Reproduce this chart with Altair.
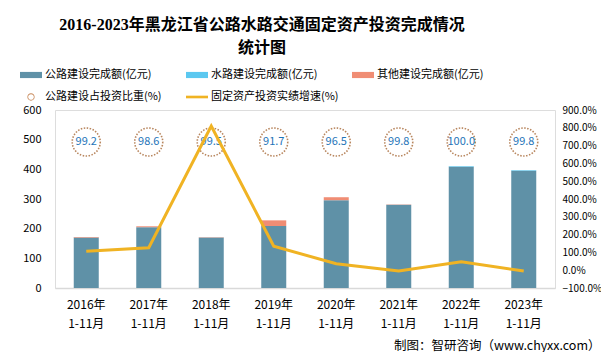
import altair as alt
import pandas as pd

years = ["2016年|1-11月", "2017年|1-11月", "2018年|1-11月", "2019年|1-11月",
         "2020年|1-11月", "2021年|1-11月", "2022年|1-11月", "2023年|1-11月"]
road = [170, 205, 170, 209, 296, 281, 409, 395]
water = [0, 0, 0, 0, 0, 0, 2, 2]
other = [2, 3, 1, 19, 10, 1, 0, 0]
road_share = [99.2, 98.6, 99.5, 91.7, 96.5, 99.8, 100.0, 99.8]
growth = [1.07, 1.26, 8.10, 1.35, 0.36, -0.05, 0.47, -0.05]

s_road = "公路建设完成额(亿元)"
s_water = "水路建设完成额(亿元)"
s_other = "其他建设完成额(亿元)"
s_share = "公路建设占投资比重(%)"
s_growth = "固定资产投资实绩增速(%)"

legend_names = [s_road, s_water, s_other, s_share, s_growth]
colors = ["#5f91a7", "#5bc8f0", "#f08d74", "#c8895a", "#f0b323"]

rows = []
for i, y in enumerate(years):
    rows.append({"year": y, "series": s_road, "value": road[i], "order": 0})
    rows.append({"year": y, "series": s_water, "value": water[i], "order": 1})
    rows.append({"year": y, "series": s_other, "value": other[i], "order": 2})
bars_df = pd.DataFrame(rows)
line_df = pd.DataFrame({"year": years, "growth": growth, "share": road_share})
legend_df = pd.DataFrame({"kind": legend_names})

font = "Noto Sans CJK SC"
xenc = alt.X("year:N", sort=years,
             scale=alt.Scale(paddingInner=0.6, paddingOuter=0.3),
             axis=alt.Axis(labelExpr="split(datum.value, '|')", labelAngle=0,
                           labelFont=font, labelFontSize=12, labelColor="#000000",
                           labelLineHeight=19, labelPadding=11, ticks=False,
                           domainColor="#d9d9d9", domainWidth=1.5,
                           title="制图：智研咨询（www.chyxx.com）",
                           titleFont=font, titleFontSize=12.5, titleFontWeight="normal",
                           titleColor="#000000", titleAnchor="end", titleAlign="right",
                           titleX=545, titleY=57, titleBaseline="middle"))

bars = alt.Chart(bars_df).mark_bar().encode(
    x=xenc,
    y=alt.Y("value:Q", stack="zero",
            scale=alt.Scale(domain=[0, 600]),
            axis=alt.Axis(values=[0, 100, 200, 300, 400, 500, 600], grid=False,
                          domain=False, ticks=False, labelPadding=14,
                          labelFont=font, labelFontSize=11, labelColor="#000000",
                          title=None)),
    color=alt.Color("series:N", scale=alt.Scale(domain=legend_names[:3], range=colors[:3]),
                    legend=None),
    order=alt.Order("order:Q"),
)

circles = alt.Chart(line_df).mark_point(
    shape="circle", size=784, filled=False, stroke="#b8865e",
    strokeWidth=1.6, strokeDash=[1.5, 1.5], opacity=1
).encode(x=alt.X("year:N", sort=years), y=alt.value(32))

texts = alt.Chart(line_df).mark_text(
    font=font, fontSize=11, color="#1e74b8"
).encode(x=alt.X("year:N", sort=years), y=alt.value(32),
         text=alt.Text("share:Q", format=".1f"))

line = alt.Chart(line_df).mark_line(color="#f0b323", strokeWidth=3).encode(
    x=alt.X("year:N", sort=years),
    y=alt.Y("growth:Q", scale=alt.Scale(domain=[-1, 9]),
            axis=alt.Axis(orient="right", values=list(range(-1, 10)), format=".1%",
                          grid=False, domain=False, ticks=False, labelPadding=7,
                          labelFont=font, labelFontSize=10, labelColor="#000000",
                          title=None)),
)

bar_path = "M-1,-0.28H1V0.28H-1Z"
line_path = "M-1,-0.12H1V0.12H-1Z"
ring_path = ("M0.33,0A0.33,0.33 0 1,1 -0.33,0A0.33,0.33 0 1,1 0.33,0Z"
             "M0.26,0A0.26,0.26 0 1,0 -0.26,0A0.26,0.26 0 1,0 0.26,0Z")
shapes = [bar_path, bar_path, bar_path, ring_path, line_path]

legend_props = dict(title=None, orient="none", legendX=-35, legendY=-46,
                    direction="horizontal", columns=3, columnPadding=13, rowPadding=6,
                    gridAlign="all",
                    symbolSize=484, labelFont=font, labelFontSize=11,
                    labelColor="#000000", labelOffset=3,
                    symbolStrokeWidth=0, labelLimit=300)

legend_layer = alt.Chart(legend_df).mark_point(filled=True, opacity=1).encode(
    color=alt.Color("kind:N", scale=alt.Scale(domain=legend_names, range=colors),
                    legend=alt.Legend(**legend_props)),
    shape=alt.Shape("kind:N", scale=alt.Scale(domain=legend_names, range=shapes),
                    legend=alt.Legend(**legend_props)),
).transform_filter("false")

chart = alt.layer(bars, circles, texts, line, legend_layer).resolve_scale(
    y="independent", color="independent", shape="independent"
).properties(
    width=500, height=178,
    padding={"left": 47, "top": 102, "right": 46, "bottom": 64},
    autosize=alt.AutoSizeParams(type="none"),
    title=alt.TitleParams(
        text=["2016-2023年黑龙江省公路水路交通固定资产投资完成情况", "统计图"],
        font="Liberation Serif, Noto Sans CJK SC", fontSize=16, fontWeight="bold",
        color="#000000", anchor="middle", dx=-43, lineHeight=23, offset=8,
    ),
).configure_view(stroke=None).configure(background="#ffffff")

chart.save("out.html", embed_options={"renderer": "svg", "actions": False})
